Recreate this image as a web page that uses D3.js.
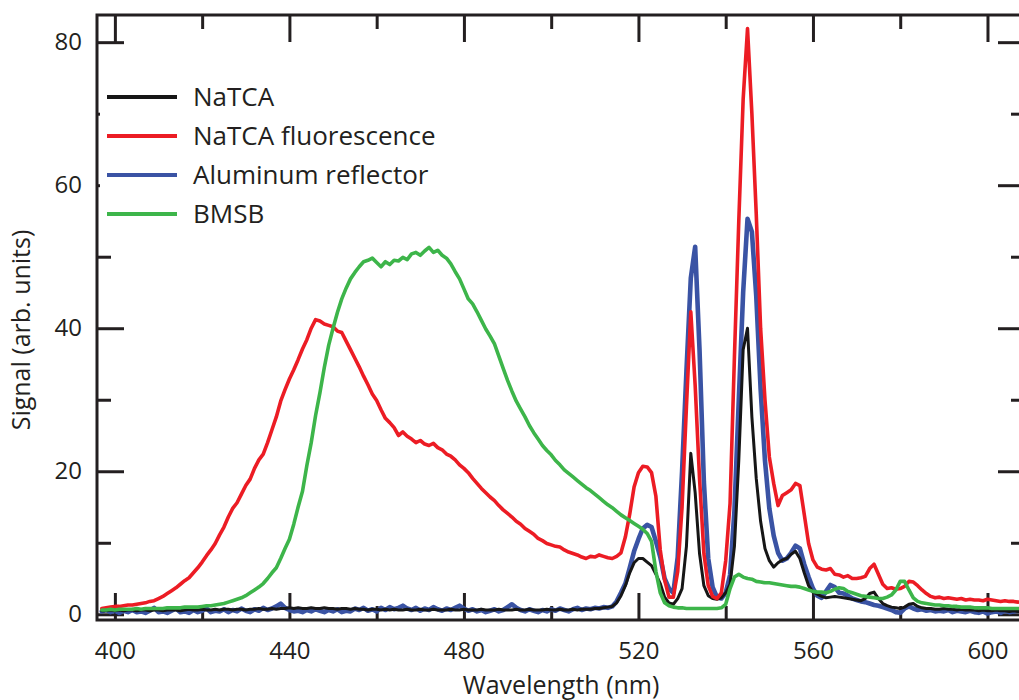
<!DOCTYPE html>
<html>
<head>
<meta charset="utf-8">
<script src="https://cdn.jsdelivr.net/npm/d3@7"></script>
<style>
  html, body { margin: 0; padding: 0; background: #fff; }
  svg { display: block; }
  text { font-family: "Open Sans", sans-serif; fill: #231f20; }
</style>
</head>
<body>
<svg id="chart" width="1019" height="700"></svg>
<script>
// Spectra sampled every 1 nm from 397 nm to 608 nm
const wavelengths = d3.range(397, 609);

const natca = [
  0.5, 0.5, 0.6, 0.5, 0.6, 0.5, 0.6, 0.6, 0.5, 0.6,
  0.6, 0.5, 0.6, 0.6, 0.5, 0.6, 0.6, 0.6, 0.5, 0.6,
  0.7, 0.6, 0.6, 0.7, 0.6, 0.6, 0.7, 0.6, 0.7, 0.7,
  0.6, 0.7, 0.7, 0.6, 0.7, 0.7, 0.8, 0.7, 0.7, 0.8,
  0.7, 0.8, 0.8, 0.9, 0.8, 0.9, 0.8, 0.8, 0.9, 0.8,
  0.8, 0.9, 0.8, 0.8, 0.7, 0.8, 0.8, 0.7, 0.8, 0.7,
  0.7, 0.6, 0.7, 0.7, 0.6, 0.7, 0.6, 0.7, 0.6, 0.6,
  0.7, 0.6, 0.6, 0.7, 0.6, 0.6, 0.7, 0.6, 0.6, 0.6,
  0.7, 0.6, 0.6, 0.7, 0.6, 0.6, 0.6, 0.7, 0.6, 0.6,
  0.6, 0.7, 0.6, 0.6, 0.6, 0.7, 0.6, 0.6, 0.7, 0.6,
  0.6, 0.6, 0.7, 0.6, 0.6, 0.7, 0.6, 0.6, 0.7, 0.6,
  0.7, 0.7, 0.7, 0.8, 0.8, 0.9, 1.0, 1.1, 1.6, 2.6,
  4.0, 5.8, 7.2, 7.8, 7.8, 7.3, 6.8, 5.6, 4.3, 2.4,
  1.6, 1.4, 2.2, 3.6, 9.5, 22.5, 17.0, 8.5, 4.0, 2.6,
  2.2, 2.1, 2.3, 3.0, 4.2, 9.5, 21.5, 37.0, 40.0, 27.6,
  19.0, 13.0, 9.2, 7.5, 6.6, 7.2, 7.6, 7.8, 8.4, 8.8,
  7.8, 5.8, 4.0, 3.1, 2.8, 2.5, 2.3, 2.4, 2.5, 2.4,
  2.3, 2.2, 2.1, 2.0, 1.9, 2.2, 2.9, 3.1, 2.2, 1.5,
  1.2, 1.0, 0.9, 0.8, 1.0, 1.4, 1.5, 1.1, 0.9, 0.8,
  0.8, 0.7, 0.7, 0.8, 0.7, 0.7, 0.6, 0.7, 0.6, 0.6,
  0.6, 0.5, 0.6, 0.5, 0.5, 0.6, 0.5, 0.5, 0.4, 0.5,
  0.4, 0.4
];

const natcaFluorescence = [
  0.8, 0.9, 1.0, 1.1, 1.1, 1.2, 1.3, 1.3, 1.4, 1.5,
  1.6, 1.8, 1.9, 2.2, 2.5, 2.9, 3.3, 3.7, 4.2, 4.7,
  5.1, 5.8, 6.5, 7.3, 8.2, 9.0, 9.9, 11.1, 12.2, 13.6,
  14.8, 15.6, 16.8, 18.0, 18.9, 20.4, 21.6, 22.4, 24.0, 25.8,
  27.6, 29.8, 31.4, 32.9, 34.2, 35.6, 37.1, 38.4, 40.0, 41.2,
  41.0, 40.6, 40.4, 40.2, 39.6, 39.4, 38.2, 37.0, 35.8, 34.6,
  33.3, 32.1, 30.8, 29.9, 28.6, 27.4, 26.8, 26.1, 25.0, 25.5,
  24.9, 24.5, 24.0, 24.3, 23.8, 23.6, 23.9, 23.3, 23.0, 22.4,
  22.1, 21.6, 20.9, 20.4, 19.8, 19.0, 18.3, 17.6, 17.0, 16.4,
  15.9, 15.2, 14.6, 14.1, 13.6, 13.0, 12.6, 12.0, 11.6, 11.2,
  10.6, 10.3, 9.9, 9.7, 9.5, 9.4, 9.0, 8.7, 8.5, 8.3,
  8.0, 7.8, 8.1, 8.0, 8.3, 8.1, 7.9, 7.8, 8.1, 8.6,
  10.8, 14.0, 17.8, 19.8, 20.7, 20.6, 19.8, 16.5, 9.0, 4.8,
  2.4, 2.4, 6.0, 15.0, 29.0, 42.3, 32.0, 19.0, 8.5, 4.0,
  2.5, 2.2, 3.0, 7.5, 15.5, 36.0, 55.0, 72.0, 81.9, 70.0,
  56.0, 40.0, 30.0, 22.0, 18.3, 15.2, 16.6, 17.0, 17.4, 18.3,
  18.0, 14.0, 9.9, 7.6, 6.6, 6.3, 6.2, 6.4, 5.6, 5.5,
  5.2, 5.4, 5.0, 5.0, 5.1, 5.3, 6.4, 7.0, 5.6, 4.2,
  3.6, 3.7, 3.5, 3.6, 3.9, 4.6, 4.5, 4.0, 3.4, 2.9,
  2.5, 2.3, 2.4, 2.2, 2.3, 2.2, 2.1, 2.2, 2.0, 2.1,
  2.0, 2.0, 1.9, 2.1, 2.0, 1.9, 1.8, 1.9, 1.8, 1.8,
  1.7, 1.8
];

const aluminumReflector = [
  0.4, 0.6, 0.3, 0.5, 0.2, 0.5, 0.3, 0.6, 0.3, 0.4,
  0.2, 0.5, 0.9, 0.3, 0.4, 0.2, 0.5, 0.8, 0.3, 0.4,
  0.2, 0.6, 0.3, 0.5, 0.8, 0.3, 0.5, 0.4, 0.7, 0.3,
  0.6, 0.4, 0.8, 0.5, 0.3, 0.7, 0.5, 0.9, 0.6, 0.8,
  1.1, 1.5, 0.9, 0.6, 0.4, 0.5, 0.3, 0.6, 0.4, 0.7,
  0.5, 0.3, 0.6, 0.4, 0.7, 0.3, 0.5, 0.4, 0.8, 0.6,
  0.9, 0.5, 0.7, 0.4, 0.9, 0.6, 1.0, 0.7, 0.9, 1.2,
  0.8, 0.6, 0.9, 0.5, 0.8, 0.6, 1.0, 0.7, 0.5, 0.8,
  0.6, 0.9, 1.2, 0.8, 0.5, 0.7, 0.4, 0.6, 0.3, 0.5,
  0.7, 0.4, 0.6, 1.0, 1.4, 0.9, 0.6, 0.4, 0.7, 0.5,
  0.3, 0.6, 0.4, 0.7, 0.5, 0.8, 0.6, 0.4, 0.7, 0.9,
  0.6, 0.8, 0.7, 0.9, 0.8, 1.0, 0.9, 1.1, 1.8, 3.0,
  4.3, 6.5, 8.8, 10.5, 12.0, 12.5, 12.2, 10.2, 8.0, 5.0,
  3.6, 3.0, 8.0, 20.0, 34.0, 47.0, 51.4, 37.0, 18.5, 7.8,
  3.8, 2.4, 2.2, 3.0, 5.5, 14.5, 30.0, 45.0, 55.3, 53.5,
  44.5, 31.5, 21.5, 14.8, 11.0, 8.6, 7.5, 7.8, 8.6, 9.6,
  9.2, 7.0, 5.2, 3.6, 2.6, 2.3, 3.2, 4.1, 3.8, 3.0,
  2.9, 2.6, 2.2, 2.0, 1.8, 1.7, 1.5, 1.3, 1.2, 1.0,
  0.8, 0.6, 0.3, 0.2, 0.8, 1.1, 0.8, 0.6, 0.7, 0.5,
  0.6, 0.4, 0.5, 0.4, 0.6, 0.3, 0.5, 0.4, 0.3, 0.5,
  0.3, 0.2, 0.4, 0.1, 0.3, 0.4, 0.2, 0.5, 0.3, 0.4,
  0.5, 0.4
];

const bmsb = [
  0.6, 0.6, 0.7, 0.6, 0.7, 0.7, 0.7, 0.7, 0.8, 0.7,
  0.8, 0.8, 0.8, 0.8, 0.8, 0.9, 0.9, 0.9, 0.9, 1.0,
  1.0, 1.0, 1.0, 1.1, 1.2, 1.2, 1.3, 1.4, 1.5, 1.7,
  1.9, 2.1, 2.3, 2.6, 3.0, 3.4, 3.8, 4.3, 5.0, 5.8,
  6.5, 7.8, 9.2, 10.5, 12.6, 15.0, 17.2, 20.8, 24.0, 27.8,
  31.0, 34.5, 37.6, 40.0, 42.2, 44.1, 45.6, 46.9, 47.8, 48.6,
  49.3, 49.5, 49.8, 49.2, 48.6, 49.3, 48.9, 49.5, 49.4, 49.9,
  49.6, 50.4, 50.6, 50.2, 50.8, 51.3, 50.6, 50.9, 50.2, 49.8,
  49.0, 47.9, 46.9, 45.5, 44.1, 43.4, 42.3, 41.1, 39.9, 38.9,
  37.8, 36.1, 34.4, 32.7, 31.2, 29.8, 28.7, 27.6, 26.4, 25.4,
  24.5, 23.6, 22.9, 22.3, 21.5, 20.9, 20.2, 19.7, 19.2, 18.7,
  18.2, 17.7, 17.3, 16.8, 16.3, 15.8, 15.3, 14.9, 14.4, 13.9,
  13.5, 13.1, 12.7, 12.3, 11.9, 11.3, 10.2, 6.0, 3.0, 1.6,
  1.2, 1.0, 0.9, 0.9, 0.8, 0.8, 0.8, 0.8, 0.8, 0.8,
  0.8, 0.8, 0.9, 1.4, 3.6, 5.2, 5.6, 5.2, 5.0, 4.9,
  4.6, 4.5, 4.4, 4.4, 4.3, 4.2, 4.1, 4.0, 3.9, 3.9,
  3.8, 3.6, 3.4, 3.2, 3.1, 3.1, 3.0, 3.2, 3.5, 3.7,
  3.6, 3.2, 3.0, 2.8, 2.6, 2.5, 2.4, 2.3, 2.2, 2.2,
  2.4, 2.7, 3.4, 4.6, 4.6, 3.4, 2.3, 1.8, 1.6, 1.5,
  1.4, 1.3, 1.3, 1.2, 1.2, 1.1, 1.1, 1.0, 1.0, 1.0,
  0.9, 0.9, 0.9, 0.9, 0.8, 0.8, 0.8, 0.8, 0.8, 0.8,
  0.8, 0.8
];

const xMajorTicks = [400, 440, 480, 520, 560, 600];
const xMinorTicks = [420, 460, 500, 540, 580];
const yMajorTicks = [0, 20, 40, 60, 80];
const yMinorTicks = [10, 30, 50, 70];

const seriesNames = ["NaTCA", "NaTCA fluorescence", "Aluminum reflector", "BMSB"];
const seriesValues = [natca, natcaFluorescence, aluminumReflector, bmsb];
const seriesColors = ["#161616", "#ec1c24", "#3a53a4", "#3db54a"];
const seriesWidths = [3.0, 3.6, 4.6, 3.6];
const drawOrder = [2, 0, 1, 3];

// ---- layout ----
const svg = d3.select("#chart");
const frame = { left: 97, top: 15, right: 1025, bottom: 620 };
const ink = "#231f20";

const x = d3.scaleLinear().domain([395.9, 608.6]).range([frame.left, frame.right]);
const y = d3.scaleLinear().domain([-0.8, 83.8]).range([frame.bottom, frame.top]);

svg.append("defs").append("clipPath").attr("id", "plot-clip")
  .append("rect")
  .attr("x", frame.left).attr("y", frame.top)
  .attr("width", frame.right - frame.left)
  .attr("height", frame.bottom - frame.top);

// ---- tick marks on all four sides, pointing inward ----
function tickSet(axisFn, values, size, translate, labelled, padding) {
  const gen = axisFn(axisFn === d3.axisBottom || axisFn === d3.axisTop ? x : y)
    .tickValues(values)
    .tickSizeInner(-size)
    .tickSizeOuter(0)
    .tickPadding(padding || 0)
    .tickFormat(labelled ? d3.format("d") : () => "");
  const g = svg.append("g").attr("transform", translate).call(gen);
  g.select(".domain").remove();
  g.selectAll(".tick line").attr("stroke", ink).attr("stroke-width", 3);
  g.selectAll(".tick text")
    .attr("fill", ink)
    .style("font-family", '"Open Sans", sans-serif')
    .style("font-size", "24px");
  return g;
}

const majorLen = 27, minorLen = 14;
tickSet(d3.axisBottom, xMajorTicks, majorLen, `translate(0,${frame.bottom})`, true, 22);
tickSet(d3.axisBottom, xMinorTicks, minorLen, `translate(0,${frame.bottom})`, false);
tickSet(d3.axisTop, xMajorTicks, majorLen, `translate(0,${frame.top})`, false);
tickSet(d3.axisTop, xMinorTicks, minorLen, `translate(0,${frame.top})`, false);
tickSet(d3.axisLeft, yMajorTicks, majorLen, `translate(${frame.left},0)`, true, 15);
tickSet(d3.axisLeft, yMinorTicks, minorLen, `translate(${frame.left},0)`, false);
tickSet(d3.axisRight, yMajorTicks, majorLen, `translate(${frame.right},0)`, false);
tickSet(d3.axisRight, yMinorTicks, minorLen, `translate(${frame.right},0)`, false);

// ---- spectra ----
const line = d3.line()
  .x((d, i) => x(wavelengths[i]))
  .y(d => y(d))
  .curve(d3.curveLinear);

const plot = svg.append("g").attr("clip-path", "url(#plot-clip)");
drawOrder.forEach(k => {
  plot.append("path")
    .datum(seriesValues[k])
    .attr("fill", "none")
    .attr("stroke", seriesColors[k])
    .attr("stroke-width", seriesWidths[k])
    .attr("stroke-linejoin", "round")
    .attr("stroke-linecap", "round")
    .attr("d", line);
});

// ---- frame ----
svg.append("rect")
  .attr("x", frame.left).attr("y", frame.top)
  .attr("width", frame.right - frame.left)
  .attr("height", frame.bottom - frame.top)
  .attr("fill", "none")
  .attr("stroke", ink)
  .attr("stroke-width", 3);

// ---- legend ----
const legend = svg.append("g");
legend.append("rect")
  .attr("x", 100).attr("y", 56)
  .attr("width", 350).attr("height", 182)
  .attr("fill", "#fff");
const legendTop = 97, legendStep = 39;
seriesNames.forEach((name, i) => {
  const ly = legendTop + i * legendStep;
  legend.append("line")
    .attr("x1", 107).attr("x2", 177)
    .attr("y1", ly).attr("y2", ly)
    .attr("stroke", seriesColors[i])
    .attr("stroke-width", 4);
  legend.append("text")
    .attr("x", 193).attr("y", ly)
    .attr("dy", "0.36em")
    .style("font-size", "26px")
    .text(name);
});

// ---- axis titles ----
svg.append("text")
  .attr("x", (frame.left + frame.right) / 2)
  .attr("y", 694)
  .attr("text-anchor", "middle")
  .style("font-size", "25px")
  .text("Wavelength (nm)");

svg.append("text")
  .attr("transform", "translate(30,330) rotate(-90)")
  .attr("text-anchor", "middle")
  .style("font-size", "25px")
  .text("Signal (arb. units)");
</script>
</body>
</html>
